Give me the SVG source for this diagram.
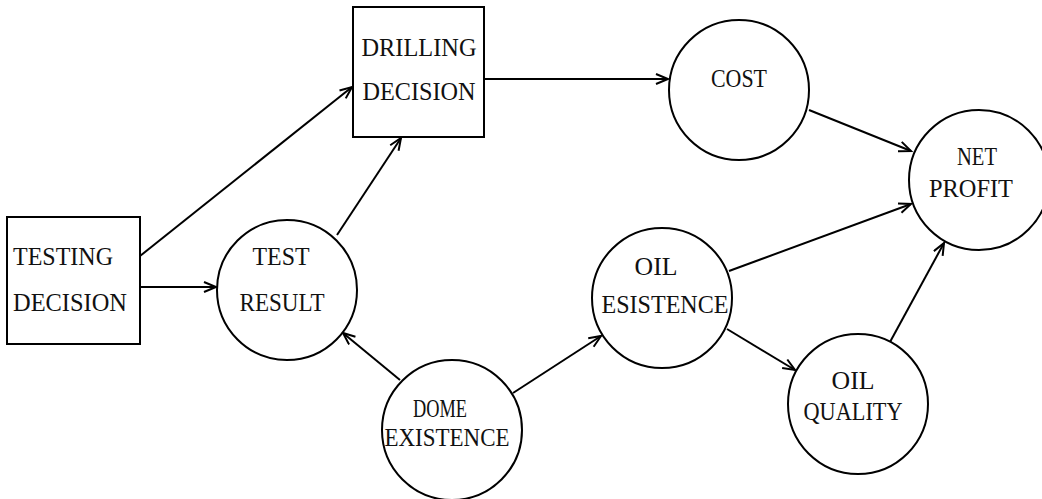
<svg xmlns="http://www.w3.org/2000/svg" width="1042" height="499" viewBox="0 0 1042 499">
  <defs>
    <style>
      .node { fill: #ffffff; stroke: #000000; stroke-width: 2; }
      .lbl { font-family: "Liberation Serif", "Times New Roman", serif; font-size: 26px; fill: #111111; }
      .mid { text-anchor: middle; }
      .edge { stroke: #000000; stroke-width: 2; fill: none; marker-end: url(#arrow); }
    </style>
    <marker id="arrow" markerUnits="userSpaceOnUse" markerWidth="16" markerHeight="14" refX="13" refY="6" orient="auto">
      <path d="M1,1 L13,6 L1,11" fill="none" stroke="#000000" stroke-width="2"/>
    </marker>
  </defs>
  <rect width="1042" height="499" fill="#ffffff"/>

  <g id="connectors">
    <line class="edge" x1="140" y1="256" x2="352" y2="87"/>
    <line class="edge" x1="140" y1="287" x2="216" y2="287"/>
    <line class="edge" x1="337" y1="235" x2="401" y2="138"/>
    <line class="edge" x1="484" y1="79" x2="668" y2="79"/>
    <line class="edge" x1="809" y1="110" x2="911" y2="151"/>
    <line class="edge" x1="729" y1="271" x2="911" y2="204"/>
    <line class="edge" x1="727" y1="329" x2="795" y2="370"/>
    <line class="edge" x1="890" y1="342" x2="944" y2="243"/>
    <line class="edge" x1="400" y1="380" x2="343" y2="333"/>
    <line class="edge" x1="513" y1="393" x2="601" y2="336"/>
  </g>

  <g id="testing-decision">
    <rect class="node" x="7" y="217" width="133" height="127"/>
    <text class="lbl" x="13" y="265" textLength="100" lengthAdjust="spacingAndGlyphs">TESTING</text>
    <text class="lbl" x="13" y="311" textLength="114" lengthAdjust="spacingAndGlyphs">DECISION</text>
  </g>

  <g id="drilling-decision">
    <rect class="node" x="353" y="7" width="131" height="130"/>
    <text class="lbl mid" x="419" y="56" textLength="115" lengthAdjust="spacingAndGlyphs">DRILLING</text>
    <text class="lbl mid" x="419" y="100" textLength="113" lengthAdjust="spacingAndGlyphs">DECISION</text>
  </g>

  <g id="test-result">
    <circle class="node" cx="287" cy="290" r="70"/>
    <text class="lbl mid" x="281" y="265" textLength="57" lengthAdjust="spacingAndGlyphs">TEST</text>
    <text class="lbl mid" x="282" y="311" textLength="85" lengthAdjust="spacingAndGlyphs">RESULT</text>
  </g>

  <g id="cost">
    <circle class="node" cx="739" cy="90" r="70"/>
    <text class="lbl mid" x="739" y="87" textLength="56" lengthAdjust="spacingAndGlyphs">COST</text>
  </g>

  <g id="net-profit">
    <circle class="node" cx="979" cy="180" r="70"/>
    <text class="lbl mid" x="977" y="165" textLength="40" lengthAdjust="spacingAndGlyphs">NET</text>
    <text class="lbl mid" x="971" y="197" textLength="84" lengthAdjust="spacingAndGlyphs">PROFIT</text>
  </g>

  <g id="oil-esistence">
    <circle class="node" cx="662" cy="298" r="70"/>
    <text class="lbl mid" x="656" y="275" textLength="43" lengthAdjust="spacingAndGlyphs">OIL</text>
    <text class="lbl mid" x="665" y="313" textLength="127" lengthAdjust="spacingAndGlyphs">ESISTENCE</text>
  </g>

  <g id="oil-quality">
    <circle class="node" cx="858" cy="404" r="70"/>
    <text class="lbl mid" x="853" y="389" textLength="43" lengthAdjust="spacingAndGlyphs">OIL</text>
    <text class="lbl mid" x="853" y="420" textLength="99" lengthAdjust="spacingAndGlyphs">QUALITY</text>
  </g>

  <g id="dome-existence">
    <circle class="node" cx="452" cy="430" r="70"/>
    <text class="lbl mid" x="440" y="417" textLength="54" lengthAdjust="spacingAndGlyphs">DOME</text>
    <text class="lbl mid" x="447" y="446" textLength="125" lengthAdjust="spacingAndGlyphs">EXISTENCE</text>
  </g>
</svg>
